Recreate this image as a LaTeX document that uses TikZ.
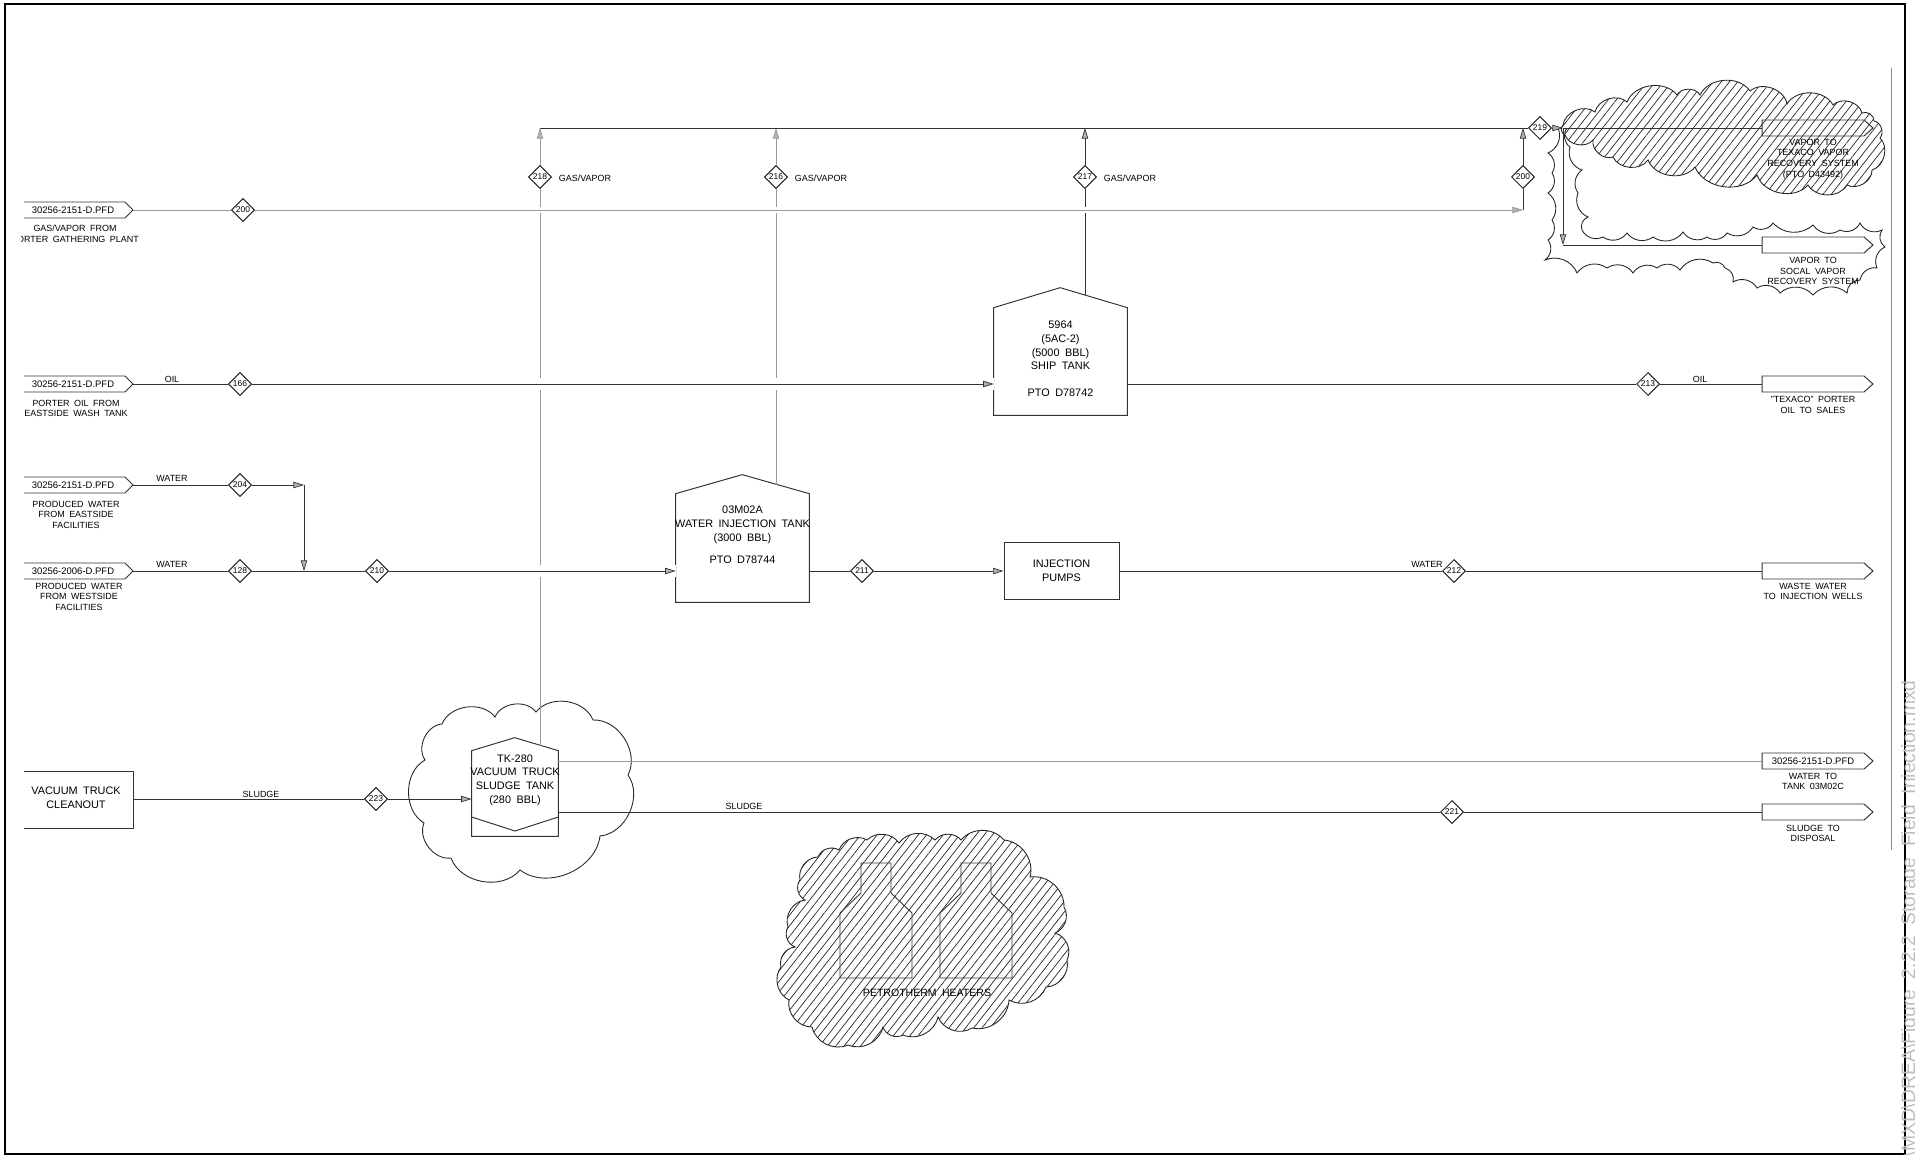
\documentclass[tikz,border=0pt]{standalone}
\usepackage{fontspec}
\setmainfont{Liberation Sans}[WordSpace=1.8]
\usetikzlibrary{arrows.meta, patterns.meta, shapes.geometric}

\tikzset{
  pipe/.style={draw=black!80, line width=0.55pt},
  faint/.style={draw=black!40, line width=0.5pt},
  arrowed/.style={-{Triangle[length=6pt, width=3.6pt, fill=black!30, line width=0.4pt]}},
  streamno/.style={shape=diamond, draw=black!85, line width=0.6pt, inner sep=0pt, minimum size=0.46cm,
    font=\fontsize{4.8pt}{5pt}\selectfont},
  tagtext/.style={font=\fontsize{5.4pt}{6pt}\selectfont, inner sep=0pt},
  subtext/.style={font=\fontsize{5.1pt}{6pt}\selectfont, align=center, inner sep=0pt},
  tanktext/.style={font=\fontsize{6.2pt}{7.8pt}\selectfont, align=center, inner sep=0pt},
  cloudline/.style={draw=black!85, line width=0.5pt, every to/.style={bend left=#1}},
  cloudline/.default=60,
  hatched/.style={pattern={Lines[angle=52, distance=3.7pt, line width=0.4pt]}, pattern color=black!85}
}

% flag at the left border: name, y, text
\newcommand{\tagleft}[3]{
  \node[tagtext] (#1) at (73,#2) {#3};
  \coordinate (#1tip) at (133,#2);
  \draw[pipe] (24,#2-8) -- (125,#2-8) -- (#1tip) -- (125,#2+8) -- (24,#2+8);
}
% flag at the right: name, y, text
\newcommand{\tagright}[3]{
  \node[tagtext] (#1) at (1813,#2) {#3};
  \coordinate (#1tail) at (1762,#2);
  \draw[pipe] (#1tail) -- (1762,#2-8) -- (1864,#2-8) -- (1873,#2) -- (1864,#2+8) -- (1762,#2+8) -- cycle;
}

\begin{document}
\begin{tikzpicture}[x=0.02cm, y=-0.02cm]
  \useasboundingbox (0,0) rectangle (1915,1155);
  \draw[black, line width=1.4pt] (5,4) rectangle (1905,1154);
  \coordinate (marginTop) at (1891,68);
  \coordinate (marginEnd) at (1891,850);
  \draw[black!45, line width=0.5pt] (marginTop) -- (marginEnd);
  \node[rotate=90, anchor=base east, inner sep=0pt, text=black!25, font=\fontsize{11pt}{12pt}\selectfont] (pathText)
    at (1915,680) {roject\textbackslash MXD\textbackslash DREA\textbackslash Figure\_2.2.2\_Storage\_Field\_Injection.mxd};

  % clouds
  \draw[cloudline, hatched] (1563,125) to (1595,112) to (1627,102) to (1677,95) to (1700,95) to (1750,91)
    to (1787,104) to (1833,105) to (1862,113) to (1874,121) to (1880,138) to (1872,170) to (1847,185)
    to (1808,185) to (1757,175) to (1695,167) to (1648,160) to (1613,157) to (1593,140) to (1565,135) to cycle;
  \draw[cloudline=45] (1558,128) to (1548,153) to (1552,173) to (1548,193) to (1552,220) to (1548,240) to (1545,260)
    to (1577,273) to (1607,268) to (1633,273) to (1657,268) to (1680,270) to (1713,263) to (1725,268) to (1733,282)
    to (1757,288) to (1780,293) to (1813,295) to (1847,293) to (1860,280) to (1877,268) to (1885,247) to (1882,230)
    to (1860,223) to (1840,230) to (1813,225) to (1773,223) to (1753,227) to (1727,233) to (1707,237) to (1683,232)
    to (1653,237) to (1627,233) to (1603,237) to (1582,230) to (1588,217) to (1578,193) to (1582,170) to (1570,147)
    to (1567,128);
  \draw[cloudline] (425,760) to (442,724) to (495,717) to (536,712) to (593,720) to (628,775)
    to (600,836) to (520,870) to (451,858) to (424,823) to cycle;
  \draw[cloudline=50, hatched] (800,880) to (818,857) to (839,850) to (867,840) to (899,843) to (935,840) to (961,840)
    to (1004,840) to (1030,877) to (1064,907) to (1055,933) to (1067,960) to (1046,987) to (1009,1000) to (972,1028)
    to (938,1017) to (903,1035) to (883,1027) to (848,1045) to (812,1027) to (789,1000) to (781,967) to (795,947)
    to (788,927) to (805,900) to cycle;

  % heaters
  \foreach \bx in {876,976} {
    \draw[pipe, line width=0.5pt] (\bx-15,863) -- (\bx+15,863) -- (\bx+15,893) -- (\bx+36,913) -- (\bx+36,978)
      -- (\bx-36,978) -- (\bx-36,913) -- (\bx-15,893) -- cycle;
  }
  \node[tagtext, font=\fontsize{6pt}{7pt}\selectfont] (heaters) at (927,993) {PETROTHERM HEATERS};

  % tanks and boxes
  \node[minimum width=2.66cm, minimum height=2.14cm, inner sep=0pt] (shipTank) at (1060.5,361.5) {};
  \draw[pipe] (shipTank.south west) -- (shipTank.north west) -- ++(66.5,-20) -- (shipTank.north east)
    -- (shipTank.south east) -- cycle;
  \node[tanktext] (shipText) at (1060.5,359) {5964\\(5AC-2)\\(5000 BBL)\\SHIP TANK\\[7.5pt]PTO D78742};
  \node[minimum width=2.66cm, minimum height=2.16cm, inner sep=0pt] (waterTank) at (742.5,548) {};
  \draw[pipe] (waterTank.south west) -- (waterTank.north west) -- ++(66.5,-19) -- (waterTank.north east)
    -- (waterTank.south east) -- cycle;
  \node[tanktext] (waterText) at (742.5,535) {03M02A\\WATER INJECTION TANK\\(3000 BBL)\\[5pt]PTO D78744};
  \node[minimum width=1.72cm, minimum height=1.7cm, inner sep=0pt] (sludgeTank) at (515,793.5) {};
  \draw[pipe] (sludgeTank.south west) -- (sludgeTank.north west) -- ++(43,-13) -- (sludgeTank.north east)
    -- (sludgeTank.south east) -- cycle;
  \draw[pipe] (sludgeTank.west |- 0,817) -- (515,831) -- (sludgeTank.east |- 0,817);
  \node[tanktext] (sludgeText) at (515,780) {TK-280\\VACUUM TRUCK\\SLUDGE TANK\\(280 BBL)};
  \node[draw=black!80, line width=0.55pt, tanktext, minimum width=2.3cm, minimum height=1.14cm] (pumps)
    at (1061.5,571) {INJECTION\\PUMPS};
  \node[tanktext] (truck) at (76,798) {VACUUM TRUCK\\CLEANOUT};
  \coordinate (truckEdge) at (133,799);
  \draw[pipe] (24,771) -- (133,771) -- (133,828) -- (24,828);

  % flags
  \tagleft{tagGas}{210}{30256-2151-D.PFD}
  \tagleft{tagOil}{384}{30256-2151-D.PFD}
  \tagleft{tagEast}{485}{30256-2151-D.PFD}
  \tagleft{tagWest}{571}{30256-2006-D.PFD}
  \tagright{tagTexaco}{128}{}
  \tagright{tagSocal}{245}{}
  \tagright{tagSales}{384}{}
  \tagright{tagWells}{571}{}
  \tagright{tagTank}{761}{30256-2151-D.PFD}
  \tagright{tagDisposal}{812}{}

  % stream numbers
  \node[streamno] (n200) at (243,210) {200};
  \node[streamno] (n166) at (240,384) {166};
  \node[streamno] (n204) at (240,485) {204};
  \node[streamno] (n128) at (240,571) {128};
  \node[streamno] (n210) at (377,571) {210};
  \node[streamno] (n211) at (862,571) {211};
  \node[streamno] (n212) at (1454,571) {212};
  \node[streamno] (n213) at (1648,384) {213};
  \node[streamno] (n223) at (376,799) {223};
  \node[streamno] (n221) at (1452,812) {221};
  \node[streamno] (n218) at (540,177) {218};
  \node[streamno] (n216) at (776,177) {216};
  \node[streamno] (n217) at (1085,177) {217};
  \node[streamno] (n200b) at (1523,177) {200};
  \node[streamno] (n219) at (1540,128) {219};

  \coordinate (headStart) at (540,128);
  \coordinate (roofWater) at (776,484.5);
  \coordinate (roofShip) at (1085,295.5);
  \coordinate (roofSludge) at (540,745.5);
  \coordinate (joinEast) at (304,485);
  \coordinate (joinGas) at (1523,210);
  \coordinate (branch) at (1563,128);
  \coordinate (branchEnd) at (1563,245);

  % risers, broken where they pass under the rows
  \draw[faint] (roofSludge) -- (n218);
  \draw[faint] (roofWater) -- (n216);
  \draw[pipe] (roofShip) -- (n217);
  \draw[faint, arrowed] (n218) -- (headStart);
  \draw[faint, arrowed] (n216) -- (n216 |- headStart);
  \draw[pipe, arrowed] (n217) -- (n217 |- headStart);
  \draw[pipe, arrowed] (n200b) -- (n200b |- headStart);
  \draw[pipe] (joinGas) -- (n200b);

  % rows
  \draw[white, line width=3.2pt] (n200) -- (joinGas);
  \draw[faint] (tagGastip) -- (n200);
  \draw[faint, arrowed] (n200) -- (joinGas);
  \draw[white, line width=7pt] (n166) -- (n166 -| shipTank.west);
  \draw[pipe] (tagOiltip) -- (n166);
  \draw[pipe, arrowed] (n166) -- (n166 -| shipTank.west);
  \draw[pipe] (shipTank.east |- n213) -- (n213);
  \draw[pipe] (n213) -- (tagSalestail);
  \draw[pipe] (tagEasttip) -- (n204);
  \draw[pipe, arrowed] (n204) -- (joinEast);
  \draw[pipe, arrowed] (joinEast) -- (joinEast |- n128);
  \draw[white, line width=7pt] (n210) -- (n210 -| waterTank.west);
  \draw[pipe] (tagWesttip) -- (n128);
  \draw[pipe] (n128) -- (n210);
  \draw[pipe, arrowed] (n210) -- (n210 -| waterTank.west);
  \draw[pipe] (waterTank.east |- n211) -- (n211);
  \draw[pipe, arrowed] (n211) -- (pumps);
  \draw[pipe] (pumps) -- (n212);
  \draw[pipe] (n212) -- (tagWellstail);
  \draw[pipe] (truckEdge) -- (n223);
  \draw[pipe, arrowed] (n223) -- (n223 -| sludgeTank.west);
  \draw[faint] (sludgeTank.east |- tagTank) -- (tagTanktail);
  \draw[pipe] (sludgeTank.east |- n221) -- (n221);
  \draw[pipe] (n221) -- (tagDisposaltail);
  \draw[pipe] (headStart) -- (n219);
  \draw[pipe, arrowed] (n219) -- (branch);
  \draw[pipe] (branch) -- (tagTexacotail);
  \draw[pipe, arrowed] (branch) -- (branchEnd);
  \draw[pipe] (branchEnd) -- (tagSocaltail);

  % line labels
  \node[subtext] (lblOilA) at (172,379) {OIL};
  \node[subtext] (lblWaterA) at (172,478) {WATER};
  \node[subtext] (lblWaterB) at (172,564) {WATER};
  \node[subtext] (lblSludgeA) at (261,794) {SLUDGE};
  \node[subtext] (lblSludgeB) at (744,806) {SLUDGE};
  \node[subtext] (lblWaterC) at (1427,564) {WATER};
  \node[subtext] (lblOilB) at (1700,379) {OIL};
  \node[subtext] (lblGasA) at (585,178) {GAS/VAPOR};
  \node[subtext] (lblGasB) at (821,178) {GAS/VAPOR};
  \node[subtext] (lblGasC) at (1130,178) {GAS/VAPOR};

  % flag captions
  \begin{scope}
    \clip (21,220) rectangle (200,250);
    \node[subtext] (capGas) at (75,234) {GAS/VAPOR FROM\\PORTER GATHERING PLANT};
  \end{scope}
  \node[subtext] (capOil) at (76,408.5) {PORTER OIL FROM\\EASTSIDE WASH TANK};
  \node[subtext] (capEast) at (76,514.5) {PRODUCED WATER\\FROM EASTSIDE\\FACILITIES};
  \node[subtext] (capWest) at (79,596.5) {PRODUCED WATER\\FROM WESTSIDE\\FACILITIES};
  \node[subtext] (capTexaco) at (1813,159) {VAPOR TO\\TEXACO VAPOR\\RECOVERY SYSTEM\\(PTO D43492)};
  \node[subtext] (capSocal) at (1813,271) {VAPOR TO\\SOCAL VAPOR\\RECOVERY SYSTEM};
  \node[subtext] (capSales) at (1813,405) {"TEXACO" PORTER\\OIL TO SALES};
  \node[subtext] (capWells) at (1813,591.5) {WASTE WATER\\TO INJECTION WELLS};
  \node[subtext] (capTank) at (1813,781.5) {WATER TO\\TANK 03M02C};
  \node[subtext] (capDisposal) at (1813,833.5) {SLUDGE TO\\DISPOSAL};
\end{tikzpicture}
\end{document}
